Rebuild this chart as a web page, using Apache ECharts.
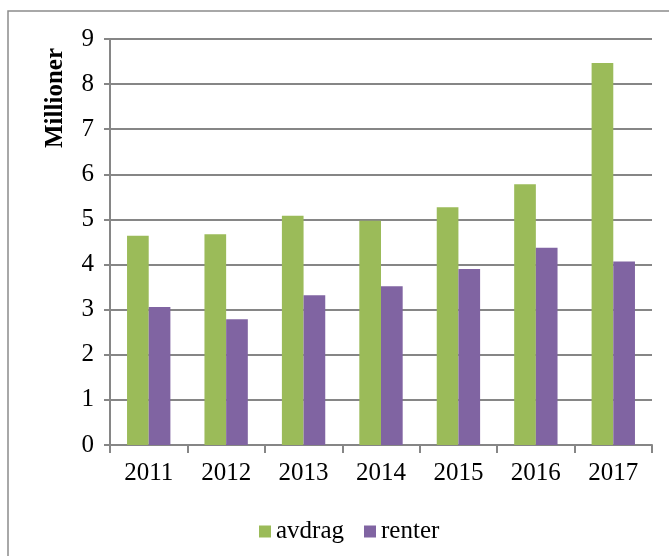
<!DOCTYPE html>
<html>
<head>
<meta charset="utf-8">
<script src="https://cdn.jsdelivr.net/npm/echarts@6/dist/echarts.min.js"></script>
<style>
  html, body { margin: 0; padding: 0; background: #fff; }
  #chart { width: 669px; height: 556px; }
</style>
</head>
<body>
<div id="chart"></div>
<script>
const years = ['2011', '2012', '2013', '2014', '2015', '2016', '2017']
const avdrag = [4.64, 4.67, 5.08, 4.97, 5.27, 5.78, 8.47]
const renter = [3.06, 2.79, 3.32, 3.52, 3.90, 4.37, 4.07]
const yTicks = { min: 0, max: 9, interval: 1 }

const font = '"Liberation Serif", "Times New Roman", serif'
const axisGrey = '#868686'

const chart = echarts.init(document.getElementById('chart'))
chart.setOption({
  backgroundColor: '#fff',
  animation: false,
  textStyle: { fontFamily: font, color: '#000' },
  grid: { left: 110, right: 17, top: 39, bottom: 111, containLabel: false },
  legend: {
    left: 254,
    top: 514,
    itemWidth: 12,
    itemHeight: 12,
    itemGap: 20,
    icon: 'rect',
    textStyle: { fontFamily: font, fontSize: 25, color: '#000' },
    data: ['avdrag', 'renter'],
  },
  xAxis: {
    type: 'category',
    data: years,
    axisLine: { lineStyle: { color: axisGrey, width: 2 } },
    axisTick: { show: true, length: 8, lineStyle: { color: axisGrey, width: 2 } },
    axisLabel: { fontFamily: font, fontSize: 25, color: '#000', margin: 16 },
    splitLine: { show: false },
  },
  yAxis: {
    type: 'value',
    min: yTicks.min,
    max: yTicks.max,
    interval: yTicks.interval,
    axisLine: { show: true, lineStyle: { color: axisGrey, width: 2 } },
    axisTick: { show: true, length: 6, lineStyle: { color: axisGrey, width: 2 } },
    axisLabel: { fontFamily: font, fontSize: 25, color: '#000', margin: 16 },
    splitLine: { lineStyle: { color: axisGrey, width: 2 } },
  },
  graphic: [
    {
      type: 'rect',
      shape: { x: 8, y: 11, width: 700, height: 600 },
      style: { fill: 'none', stroke: '#8c8c8c', lineWidth: 1.5 },
      silent: true,
    },
    {
      type: 'text',
      x: 56,
      y: 98,
      rotation: Math.PI / 2,
      style: {
        text: 'Millioner',
        fontFamily: font,
        fontWeight: 'bold',
        fontSize: 25,
        fill: '#000',
        align: 'center',
        verticalAlign: 'middle',
      },
    },
  ],
  series: [
    {
      name: 'avdrag',
      type: 'bar',
      data: avdrag,
      barWidth: '28%',
      barGap: '0%',
      barCategoryGap: '44%',
      itemStyle: { color: '#9BBB59' },
    },
    {
      name: 'renter',
      type: 'bar',
      data: renter,
      barWidth: '28%',
      barGap: '0%',
      itemStyle: { color: '#8064A2' },
    },
  ],
})
</script>
</body>
</html>
